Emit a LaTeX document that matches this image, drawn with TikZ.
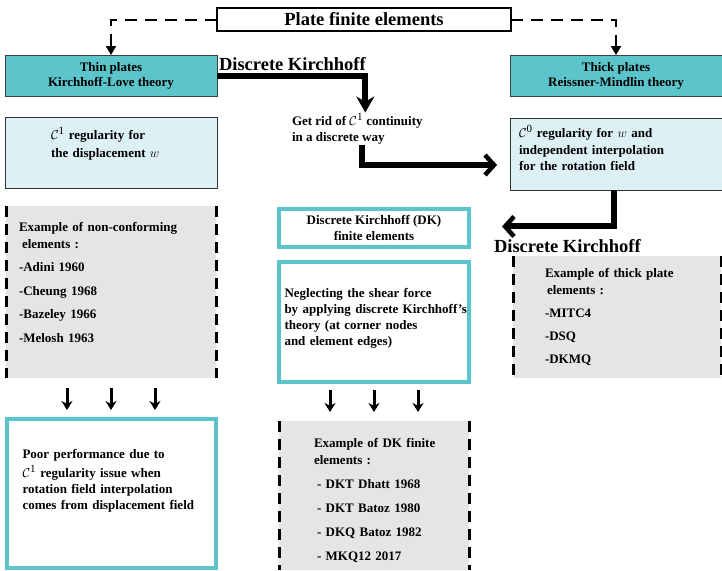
\RequirePackage{fix-cm}
\documentclass[tikz,border=0pt]{standalone}
\usepackage{fontspec}
\setmainfont{Liberation Serif}
\usepackage{amsmath}
\usepackage{tikz}
\usetikzlibrary{arrows.meta,positioning}

\definecolor{plateteal}{RGB}{92,196,203}
\definecolor{reglight}{RGB}{221,240,243}
\definecolor{exgray}{RGB}{229,229,229}

\begin{document}
\begin{tikzpicture}[x=1pt, y=-1pt, outer sep=0pt,
  head/.style={draw, line width=2pt, fill=white, minimum width=294pt, minimum height=23pt, font=\fontsize{18.5}{20}\selectfont\bfseries},
  plate/.style={draw=black!75, line width=0.8pt, fill=plateteal, align=center, minimum width=212pt, minimum height=41pt, font=\fontsize{13}{15}\selectfont\bfseries},
  reg/.style={draw=black!80, line width=1pt, fill=reglight, align=left, minimum width=212pt, font=\fontsize{13}{16}\selectfont\bfseries},
  expl/.style={fill=exgray, align=left, inner sep=0pt, font=\fontsize{13}{17}\selectfont\bfseries},
  dkbox/.style={draw=plateteal, line width=4pt, fill=white, inner sep=0pt, font=\fontsize{13}{16}\selectfont\bfseries},
  note/.style={inner sep=0pt, font=\fontsize{18.5}{20}\selectfont\bfseries},
  txt/.style={inner sep=1pt, align=left, font=\fontsize{13}{16}\selectfont\bfseries},
  bigarr/.style={line width=6pt, -{Straight Barb[length=9pt,width=20pt,line width=4.5pt]}},
  dasharr/.style={line width=2pt, dash pattern=on 12pt off 8pt, -{Triangle[length=9pt,width=10pt]}},
  smallarr/.style={line width=3pt, -{Stealth[length=9pt,width=11pt]}},
  sidedash/.style={line width=3pt, dash pattern=on 11pt off 7pt}
]
\useasboundingbox (0,0) rectangle (722,570);

\node[head] (title) at (364,19.5) {Plate finite elements};
\node[plate] (thin) at (111,75.5) {Thin plates\\Kirchhoff-Love theory};
\node[plate] (thick) at (616,75.5) {Thick plates\\Reissner-Mindlin theory};
\draw[dasharr] (title.west) -| (thin.north);
\draw[dasharr] (title.east) -| (thick.north);

\node[reg, below=21pt of thin, minimum height=71pt, text width=120pt] (cone) {$\mathcal{C}^{\text{\fontsize{11}{11}\selectfont\mdseries 1}}$ regularity for\\[2pt]the displacement $w$\rule[-20pt]{0pt}{1pt}};
\node[expl, below=18pt of cone, minimum width=210pt, minimum height=172pt, text width=184pt] (ex1) {Example of non-conforming\\\hspace*{3pt}elements :\\[6.5pt]-Adini 1960\\[6.5pt]-Cheung 1968\\[6.5pt]-Bazeley 1966\\[6.5pt]-Melosh 1963\rule[-20pt]{0pt}{1pt}};
\node[dkbox, below=41pt of ex1, minimum width=209pt, minimum height=149pt, text width=177pt, align=left] (poor) {Poor performance due to\\[3pt]$\mathcal{C}^{\text{\fontsize{11}{11}\selectfont\mdseries 1}}$ regularity issue when\\rotation field interpolation\\comes from displacement field\rule[-29pt]{0pt}{1pt}};

\node[note, anchor=base west] (dk1) at (219,70) {Discrete Kirchhoff};
\node[txt, anchor=north west] (getrid) at (291,112.5) {Get rid of $\mathcal{C}^{\text{\fontsize{11}{11}\selectfont\mdseries 1}}$ continuity\\in a discrete way};
\node[dkbox, minimum width=190pt, minimum height=38pt, align=center] (dkfe) at (374,228) {Discrete Kirchhoff (DK)\\finite elements};
\node[dkbox, below=15pt of dkfe, minimum width=190pt, minimum height=120pt, text width=179pt, align=left] (neglect) {Neglecting the shear force\\\mbox{by applying discrete Kirchhoff's}\\theory (at corner nodes\\and element edges)\rule[-11pt]{0pt}{1pt}};
\node[expl, below=39pt of neglect, minimum width=190pt, minimum height=149pt, text width=120pt] (ex2) {\rule{0pt}{20pt}\mbox{Example of DK finite}\\elements :\\[7pt]\hspace*{3pt}- DKT Dhatt 1968\\[7pt]\hspace*{3pt}- DKT Batoz 1980\\[7pt]\hspace*{3pt}- DKQ Batoz 1982\\[7pt]\hspace*{3pt}- MKQ12 2017};

\node[reg, below=22pt of thick, minimum height=72pt, text width=194pt] (czero) {$\mathcal{C}^{\text{\fontsize{11}{11}\selectfont\mdseries 0}}$ regularity for $w$ and\\[1pt]independent interpolation\\for the rotation field\rule[-12pt]{0pt}{1pt}};
\node[note, anchor=base west] (dk2) at (494,252) {Discrete Kirchhoff};
\node[expl, minimum width=208pt, minimum height=122pt, text width=144pt] (ex3) at (617,317) {Example of thick plate\\\hspace*{2pt}elements :\\[6pt]-MITC4\\[6pt]-DSQ\\[6pt]-DKMQ};

\draw[bigarr, -{Stealth[length=16pt,width=18pt]}] (thin.east) -| ([xshift=8pt]getrid.north);
\draw[bigarr, shorten >=13pt] ([xshift=5pt]getrid.south) |- ([yshift=-11pt]czero.west);
\draw[bigarr] ([xshift=-2pt]czero.south) |- ([xshift=8pt,yshift=12.5pt]dk2.north west);

\foreach \n in {ex1,ex2,ex3} {
  \draw[sidedash] (\n.north west) -- (\n.south west);
  \draw[sidedash] (\n.north east) -- (\n.south east);
}
\foreach \dx in {-44,0,44} {
  \draw[smallarr] ([xshift=\dx pt, yshift=-10pt]ex1.south) -- ([xshift=\dx pt, yshift=9pt]poor.north);
  \draw[smallarr] ([xshift=\dx pt, yshift=-8pt]neglect.south) -- ([xshift=\dx pt, yshift=9pt]ex2.north);
}

\end{tikzpicture}
\end{document}
